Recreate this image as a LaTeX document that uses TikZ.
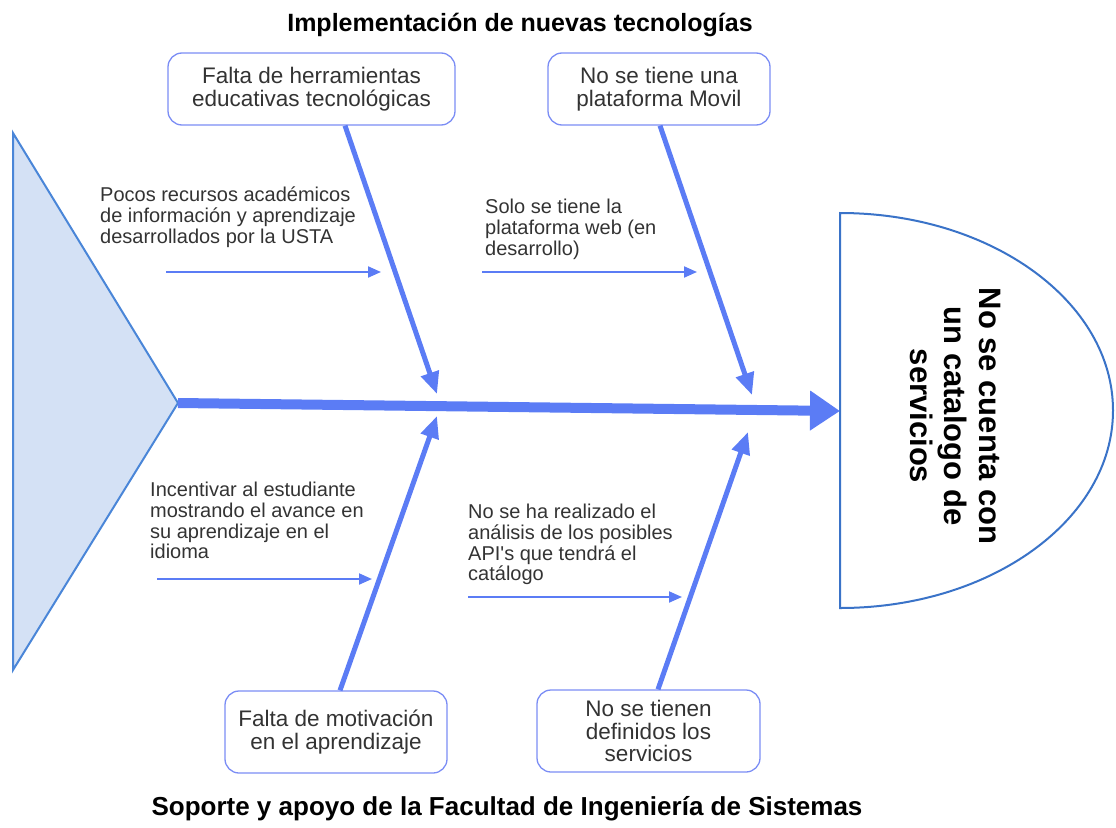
\documentclass[tikz,border=0pt]{standalone}
\usepackage{fontspec}
\setmainfont{Liberation Sans}
\usetikzlibrary{arrows.meta,calc}
\definecolor{bonec}{HTML}{5B7CF5}
\definecolor{boxc}{HTML}{7B8DF5}
\definecolor{tric}{HTML}{4A86D8}
\definecolor{trif}{HTML}{D4E1F5}
\definecolor{headc}{HTML}{3A73C8}
\definecolor{txt}{HTML}{333333}
\begin{document}
\begin{tikzpicture}[x=1pt,y=-1pt,
  causebox/.style={draw=boxc, line width=1.3pt, rounded corners=14pt, fill=white,
    align=center, inner sep=0pt, text=txt, font=\fontsize{22.5}{22.5}\selectfont},
  note/.style={anchor=north west, align=left, inner sep=0pt, text=txt,
    font=\fontsize{20}{20.7}\selectfont},
  bone/.style={draw=bonec, line width=5pt, -{Triangle[length=22pt,width=18pt]}},
  twig/.style={draw=bonec, line width=2pt, -{Triangle[length=13pt,width=11pt]}},
  spine/.style={draw=bonec, line width=10pt, -{Triangle[length=30pt,width=38pt]}},
  ttl/.style={anchor=base, inner sep=0pt, text=black}]
\useasboundingbox (0,0) rectangle (1116,827);

% tail triangle
\draw[draw=tric, fill=trif, line width=2pt, line join=miter] (13,133) -- (178,403) -- (13,670) -- cycle;
\coordinate (tip) at (178,403);

% head
\draw[draw=headc, line width=2pt, fill=white] (840,213) arc[start angle=90, end angle=-90, x radius=273pt, y radius=197.5pt] -- cycle;
\coordinate (hl) at (840,411);
\node[rotate=-90, align=center, inner sep=0pt, font=\bfseries\fontsize{31}{34.5}\selectfont] (headtxt) at (955,416)
  {No se cuenta con\\un catalogo de\\servicios};

% spine
\draw[spine] (tip) -- (hl);

% titles
\node[ttl, font=\bfseries\fontsize{25}{28}\selectfont] (ttop) at (520,31) {Implementación de nuevas tecnologías};
\node[ttl, font=\bfseries\fontsize{26}{29}\selectfont] (tbot) at (507,815) {Soporte y apoyo de la Facultad de Ingeniería de Sistemas};

% cause boxes
\node[causebox, minimum width=287pt, minimum height=72pt] (b1) at (311.5,89) {Falta de herramientas\\educativas tecnológicas};
\node[causebox, minimum width=222pt, minimum height=72pt] (b2) at (659,89) {No se tiene una\\plataforma Movil};
\node[causebox, minimum width=222pt, minimum height=82pt] (b3) at (336,732) {Falta de motivación\\en el aprendizaje};
\node[causebox, minimum width=223pt, minimum height=82pt] (b4) at (648.5,731) {No se tienen\\definidos los\\servicios};

% bone ends
\coordinate (e1) at (437,394);
\coordinate (e2) at (752,395);
\coordinate (e3) at (437,416);
\coordinate (e4) at (748,432);

\draw[bone] ($(b1.south)+(33.5,0)$) -- (e1);
\draw[bone] ($(b2.south)+(1,0)$) -- (e2);
\draw[bone] ($(b3.north)+(4,0)$) -- (e3);
\draw[bone] ($(b4.north)+(9.5,0)$) -- (e4);

% notes
\node[note] (n1) at (100,187) {Pocos recursos académicos\\de información y aprendizaje\\desarrollados por la USTA};
\node[note] (n2) at (485,199) {Solo se tiene la\\plataforma web (en\\desarrollo)};
\node[note] (n3) at (150,482) {Incentivar al estudiante\\mostrando el avance en\\su aprendizaje en el\\idioma};
\node[note] (n4) at (468,504) {No se ha realizado el\\análisis de los posibles\\API\textquotesingle s que tendrá el\\catálogo};

% sub-cause arrows
\coordinate (a1s) at (166,272); \coordinate (a1e) at (381,272);
\coordinate (a2s) at (482,272); \coordinate (a2e) at (697,272);
\coordinate (a3s) at (157,579); \coordinate (a3e) at (372,579);
\coordinate (a4s) at (468,597); \coordinate (a4e) at (682,597);
\draw[twig] (a1s) -- (a1e);
\draw[twig] (a2s) -- (a2e);
\draw[twig] (a3s) -- (a3e);
\draw[twig] (a4s) -- (a4e);
\end{tikzpicture}
\end{document}
